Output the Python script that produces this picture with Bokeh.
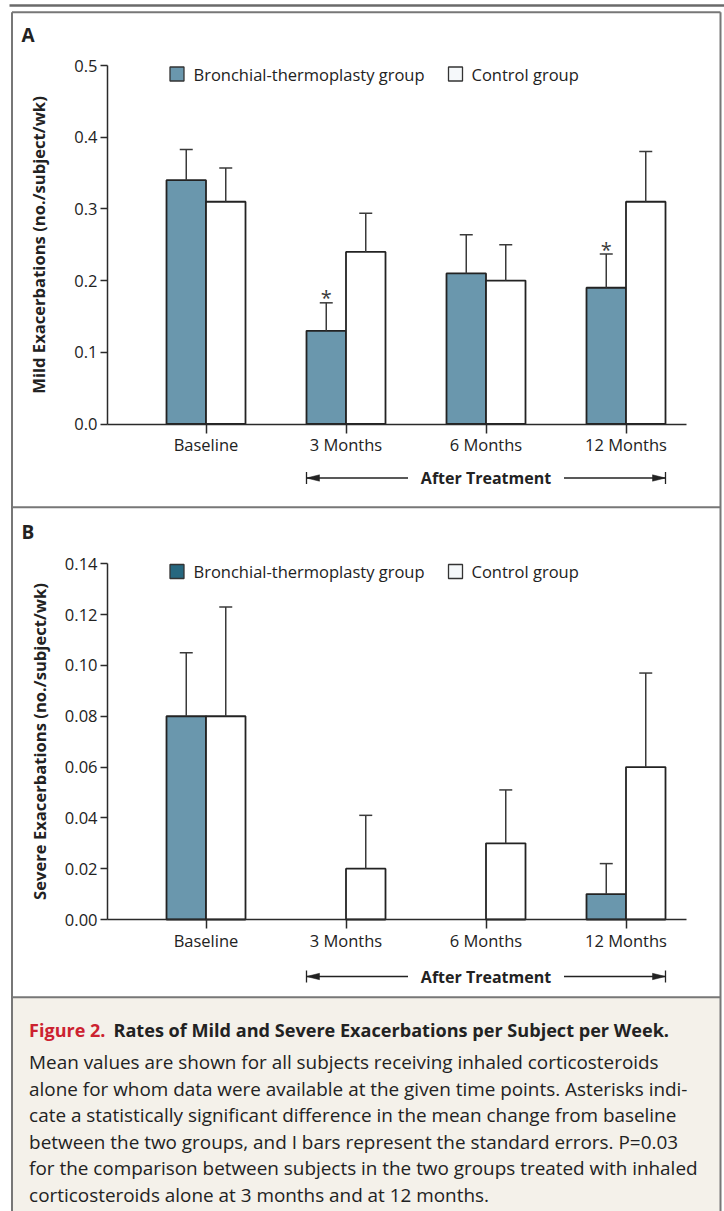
import numpy as np
from bokeh.plotting import figure
from bokeh.models import Range1d, LinearAxis, FixedTicker, NumeralTickFormatter
from bokeh.core.properties import value
from bokeh.embed import file_html
from bokeh.resources import INLINE

# ---------------- data ----------------
categories = ["Baseline", "3 Months", "6 Months", "12 Months"]
series_names = ["Bronchial-thermoplasty group", "Control group"]

mild_bt = [0.34, 0.13, 0.21, 0.19]
mild_bt_se = [0.043, 0.039, 0.054, 0.047]
mild_ctrl = [0.31, 0.24, 0.20, 0.31]
mild_ctrl_se = [0.047, 0.054, 0.050, 0.070]
mild_bt_sig = [False, True, False, True]
mild_ticks = [0.0, 0.1, 0.2, 0.3, 0.4, 0.5]

severe_bt = [0.08, 0.0, 0.0, 0.01]
severe_bt_se = [0.025, 0.0, 0.0, 0.012]
severe_ctrl = [0.08, 0.02, 0.03, 0.06]
severe_ctrl_se = [0.043, 0.021, 0.021, 0.037]
severe_bt_sig = [False, False, False, False]
severe_ticks = [0.00, 0.02, 0.04, 0.06, 0.08, 0.10, 0.12, 0.14]

group_label = "After Treatment"
caption_label = "Figure 2."
caption_title = "Rates of Mild and Severe Exacerbations per Subject per Week."
caption_lines = [
    "Mean values are shown for all subjects receiving inhaled corticosteroids",
    "alone for whom data were available at the given time points. Asterisks indi-",
    "cate a statistically significant difference in the mean change from baseline",
    "between the two groups, and I bars represent the standard errors. P=0.03",
    "for the comparison between subjects in the two groups treated with inhaled",
    "corticosteroids alone at 3 months and at 12 months.",
]

# ---------------- layout / style ----------------
W, H = 724, 1211
FONT = "Open Sans"
BT_COLOR = "#6a97ad"
CTRL_COLOR = "#ffffff"
EDGE = "#232323"
FRAME = "#777777"
TXT = "#222222"

AXIS_X_PX, AXIS_END_PX = 107.0, 686.0
CAT0_PX, CAT_STEP_PX = 205.5, 140.0
BAR_W = 39.5 / CAT_STEP_PX
CAP_HALF = 6.5 / CAT_STEP_PX


def px_to_x(px):
    return (px - CAT0_PX) / CAT_STEP_PX


panels = [
    dict(letter="A", ylabel="Mild Exacerbations (no./subject/wk)",
         bt=mild_bt, bt_se=mild_bt_se, ctrl=mild_ctrl, ctrl_se=mild_ctrl_se,
         sig=mild_bt_sig, ticks=mild_ticks, fmt="0.0",
         zero_px=423.5, top_px=65.0, letter_y=34.5, legend_y=73.5,
         key_color=BT_COLOR, after_y=477.5, title_standoff=21),
    dict(letter="B", ylabel="Severe Exacerbations (no./subject/wk)",
         bt=severe_bt, bt_se=severe_bt_se, ctrl=severe_ctrl, ctrl_se=severe_ctrl_se,
         sig=severe_bt_sig, ticks=severe_ticks, fmt="0.00",
         zero_px=919.0, top_px=563.3, letter_y=531.0, legend_y=571.0,
         key_color="#26677f", after_y=976.0, title_standoff=11),
]

extra_y = {}
for pn in panels:
    ppu = (pn["zero_px"] - pn["top_px"]) / max(pn["ticks"])
    pn["ppu"] = ppu
    pn["yname"] = "y" + pn["letter"]
    extra_y[pn["yname"]] = Range1d(start=-(H - pn["zero_px"]) / ppu, end=pn["zero_px"] / ppu)

p = figure(width=W, height=H, x_range=Range1d(0, W), y_range=Range1d(H, 0),
           min_border=0, toolbar_location=None, output_backend="svg",
           x_axis_type=None, y_axis_type=None, outline_line_color=None,
           background_fill_color="white", border_fill_color="white")
p.extra_x_ranges = {"xc": Range1d(px_to_x(0), px_to_x(W))}
p.extra_y_ranges = extra_y

# ---- frame decorations (pixel space) ----
p.quad(left=[11.5], right=[720], top=[996.7], bottom=[H], fill_color="#f4f1ea", line_color=None)
p.segment(x0=[9], y0=[5], x1=[W], y1=[5], line_color="#6a6a6a", line_width=2.5)
p.segment(x0=[11.5, 720, 11.5, 11.5, 11.5], y0=[11.7, 11.7, 11.7, 506.7, 996.7],
          x1=[11.5, 720, 720, 720, 720], y1=[H, H, 11.7, 506.7, 996.7],
          line_color=FRAME, line_width=2)

idx = np.arange(len(categories), dtype=float)
bt_x = idx - BAR_W / 2
ctrl_x = idx + BAR_W / 2

for pn in panels:
    yn = pn["yname"]
    ppu = pn["ppu"]
    kw = dict(x_range_name="xc", y_range_name=yn)
    bt = np.array(pn["bt"]); bt_se = np.array(pn["bt_se"])
    ct = np.array(pn["ctrl"]); ct_se = np.array(pn["ctrl_se"])

    # bars
    m = bt > 0
    p.vbar(x=bt_x[m], top=bt[m], bottom=0, width=BAR_W, fill_color=BT_COLOR,
           line_color=EDGE, line_width=1.8, **kw)
    p.vbar(x=ctrl_x, top=ct, bottom=0, width=BAR_W, fill_color=CTRL_COLOR,
           line_color=EDGE, line_width=1.8, **kw)

    # error bars (upper only)
    for xs, vals, ses in ((bt_x, bt, bt_se), (ctrl_x, ct, ct_se)):
        mm = ses > 0
        xs, vals, ses = xs[mm], vals[mm], ses[mm]
        p.segment(x0=xs, y0=vals, x1=xs, y1=vals + ses, line_color="#3a3a3a", line_width=1.5, **kw)
        p.segment(x0=xs - CAP_HALF, y0=vals + ses, x1=xs + CAP_HALF, y1=vals + ses,
                  line_color="#3a3a3a", line_width=1.5, **kw)

    # significance asterisks
    sg = np.array(pn["sig"], dtype=bool)
    if sg.any():
        p.text(x=bt_x[sg], y=(bt + bt_se)[sg], text=["*"] * int(sg.sum()),
               text_font=value(FONT), text_font_size="20px", text_color="#3a3a3a",
               text_align="center", text_baseline="alphabetic", y_offset=-5, **kw)

    # axes
    xaxis = LinearAxis(x_range_name="xc", y_range_name=yn, fixed_location=0,
                       bounds=(px_to_x(AXIS_X_PX), px_to_x(AXIS_END_PX)),
                       ticker=FixedTicker(ticks=list(idx)),
                       major_label_overrides={float(i): c for i, c in enumerate(categories)})
    yaxis = LinearAxis(x_range_name="xc", y_range_name=yn, fixed_location=px_to_x(AXIS_X_PX),
                       bounds=(0, max(pn["ticks"])), ticker=FixedTicker(ticks=pn["ticks"]),
                       formatter=NumeralTickFormatter(format=pn["fmt"]),
                       axis_label=pn["ylabel"])
    for ax in (xaxis, yaxis):
        ax.axis_line_color = "#2a2a2a"
        ax.axis_line_width = 1.5
        ax.major_tick_line_color = "#2a2a2a"
        ax.major_tick_line_width = 1.5
        ax.major_tick_in = 0
        ax.minor_tick_in = 0
        ax.minor_tick_out = 0
        ax.major_label_text_font = FONT
        ax.major_label_text_font_size = "16.5px"
        ax.major_label_text_color = TXT
    xaxis.major_tick_out = 9
    xaxis.major_label_standoff = 0
    yaxis.major_tick_out = 7
    yaxis.major_label_standoff = 3
    yaxis.axis_label_text_font = FONT
    yaxis.axis_label_text_font_style = "bold"
    yaxis.axis_label_text_font_size = "16.6px"
    yaxis.axis_label_text_color = TXT
    yaxis.axis_label_standoff = pn["title_standoff"]
    p.add_layout(xaxis, "below")
    p.add_layout(yaxis, "left")

    # "After Treatment" bracket
    ya = (pn["zero_px"] - pn["after_y"]) / ppu
    gap = 78.0 / CAT_STEP_PX
    xl, xr = 1 - BAR_W, 3 + BAR_W
    p.text(x=[2], y=[ya], text=[group_label], text_font=value(FONT), text_font_style="bold",
           text_font_size="16px", text_color=TXT, text_align="center", text_baseline="middle", **kw)
    p.segment(x0=[xl, 2 + gap], y0=[ya, ya], x1=[2 - gap, xr], y1=[ya, ya],
              line_color="#222222", line_width=1.3, **kw)
    tick_h = 6.0 / ppu
    p.segment(x0=[xl, xr], y0=[ya - tick_h, ya - tick_h], x1=[xl, xr], y1=[ya + tick_h, ya + tick_h],
              line_color="#222222", line_width=1.3, **kw)
    hl, hw = 13.0 / CAT_STEP_PX, 3.2 / ppu
    p.patches(xs=[[xl, xl + hl, xl + hl], [xr, xr - hl, xr - hl]],
              ys=[[ya, ya + hw, ya - hw], [ya, ya + hw, ya - hw]],
              fill_color="#222222", line_color="#222222", line_width=0.5, **kw)

    # panel letter
    p.text(x=[21], y=[pn["letter_y"]], text=[pn["letter"]], text_font=value(FONT),
           text_font_style="bold", text_font_size="19px", text_color=TXT, text_baseline="middle")

    # legend (pixel space)
    ly = pn["legend_y"]
    p.scatter(x=[176.5, 455.0], y=[ly, ly], marker="square", size=14,
              fill_color=[pn["key_color"], "#f5f8fa"], line_color="#333333", line_width=1.3)
    p.text(x=[193.0, 471.0], y=[ly, ly], text=series_names, text_font=value(FONT),
           text_font_size="16.5px", text_color=TXT, text_baseline="middle")

# ---- caption ----
p.text(x=[28.6], y=[1029.0], text=[caption_label], text_font=value(FONT), text_font_style="bold",
       text_font_size="18px", text_color="#cc2230", text_baseline="alphabetic")
p.text(x=[113.0], y=[1029.0], text=[caption_title], text_font=value(FONT), text_font_style="bold",
       text_font_size="18.1px", text_color=TXT, text_baseline="alphabetic")
cap_y = [1061.5 + 26.6 * i for i in range(len(caption_lines))]
p.text(x=[28.6] * len(caption_lines), y=cap_y, text=caption_lines, text_font=value(FONT),
       text_font_size="18.9px", text_color=TXT, text_baseline="alphabetic")

open("out.html", "w").write(file_html(p, INLINE))
